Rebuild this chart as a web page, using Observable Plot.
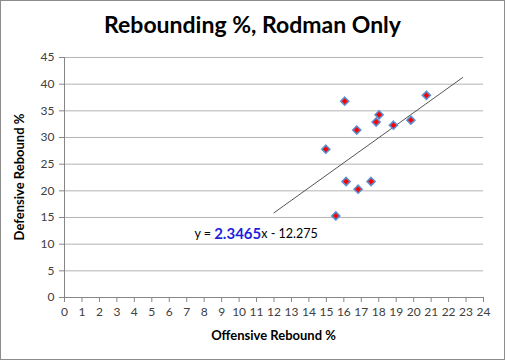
<!DOCTYPE html>
<html>
<head>
<meta charset="utf-8">
<script src="https://cdn.jsdelivr.net/npm/d3@7"></script>
<script src="https://cdn.jsdelivr.net/npm/@observablehq/plot@0.6"></script>
<style>
  html, body { margin: 0; padding: 0; background: #fff; }
  #wrap { position: relative; width: 505px; height: 360px; overflow: hidden; font-family: Lato, "Liberation Sans", sans-serif; }
  #title { position: absolute; left: 0; top: 10px; width: 505px; text-align: center; font-size: 23px; font-weight: bold; color: #000; }
  #chart { position: absolute; left: 0; top: 50px; }
  #frame { position: absolute; left: 0; top: 0; width: 503px; height: 358px; border: 1px solid #8c8c8c; pointer-events: none; }
</style>
</head>
<body>
<div id="wrap">
  <div id="title">Rebounding %, Rodman Only</div>
  <div id="chart"></div>
  <div id="frame"></div>
</div>
<script>
const offensive = [14.97, 16.05, 16.74, 17.85, 18.02, 18.84, 19.84, 20.73, 16.13, 16.82, 17.56, 15.54];
const defensive = [27.8, 36.8, 31.4, 32.9, 34.26, 32.3, 33.25, 37.9, 21.75, 20.3, 21.75, 15.3];
const slope = 2.3465;
const intercept = -12.275;
const trendX = [12, 22.8];
const xTicks = d3.range(0, 25, 1);
const yTicks = d3.range(0, 50, 5);
const eqPos = { x: 11.0, y: 11.6 };

const points = offensive.map((x, i) => ({ x, y: defensive[i] }));
const trend = trendX.map(x => ({ x, y: slope * x + intercept }));

const plot = Plot.plot({
  width: 505,
  height: 310,
  marginLeft: 64,
  marginRight: 22,
  marginTop: 7,
  marginBottom: 63,
  style: { fontFamily: "Lato, 'Liberation Sans', sans-serif", fontSize: "12px", color: "#404040", background: "transparent" },
  x: { domain: [0, 24], ticks: xTicks, label: null },
  y: { domain: [0, 45], ticks: yTicks, label: null },
  marks: [
    Plot.gridY(yTicks, { stroke: "#b4b4b4", strokeOpacity: 1, strokeWidth: 1 }),
    Plot.ruleX([0], { stroke: "#868686" }),
    Plot.ruleY([0], { stroke: "#868686" }),
    Plot.axisX(xTicks, { tickSize: 5, tickPadding: 5, stroke: "#868686", fill: "#404040", fontSize: 12 }),
    Plot.axisY(yTicks, { tickSize: 5, tickPadding: 5, stroke: "#868686", fill: "#404040", fontSize: 12 }),
    Plot.line(trend, { x: "x", y: "y", stroke: "#555", strokeWidth: 1 }),
    Plot.dot(points, { x: "x", y: "y", symbol: "diamond2", r: 3.6, fill: "#ff0000", stroke: "#5b8fd0", strokeWidth: 1.6 })
  ]
});
document.getElementById("chart").appendChild(plot);

const svg = d3.select(plot);
const xs = plot.scale("x"), ys = plot.scale("y");

const eq = svg.append("text")
  .attr("x", xs.apply(eqPos.x))
  .attr("y", ys.apply(eqPos.y))
  .attr("text-anchor", "middle")
  .attr("dominant-baseline", "middle")
  .style("font-family", "Lato, 'Liberation Sans', sans-serif")
  .style("font-size", "12.5px")
  .attr("fill", "#000");
eq.append("tspan").text("y = ");
eq.append("tspan").text(slope.toFixed(4)).attr("fill", "#1f1fe0").style("font-weight", "bold").style("font-size", "15px");
eq.append("tspan").text("x - " + Math.abs(intercept).toFixed(3));

svg.append("text")
  .attr("x", (xs.apply(0) + xs.apply(24)) / 2)
  .attr("y", 290)
  .attr("text-anchor", "middle")
  .style("font-family", "Lato, 'Liberation Sans', sans-serif")
  .style("font-size", "13px")
  .style("font-weight", "bold")
  .attr("fill", "#000")
  .text("Offensive Rebound %");

svg.append("text")
  .attr("transform", `translate(24,${(ys.apply(0) + ys.apply(45)) / 2}) rotate(-90)`)
  .attr("text-anchor", "middle")
  .style("font-family", "Lato, 'Liberation Sans', sans-serif")
  .style("font-size", "13px")
  .style("font-weight", "bold")
  .attr("fill", "#000")
  .text("Defensive Rebound %");
</script>
</body>
</html>
